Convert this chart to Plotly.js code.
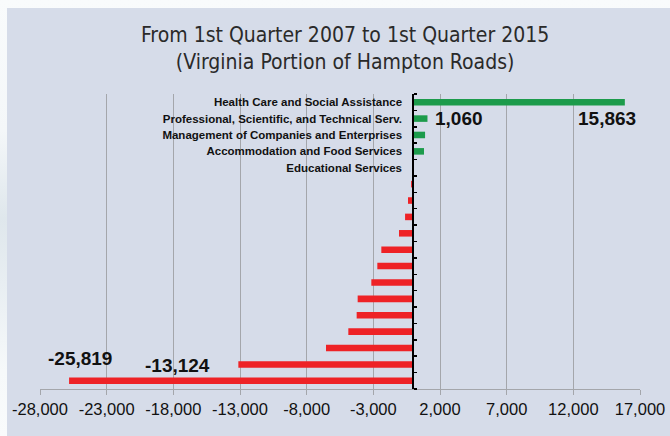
<!DOCTYPE html>
<html>
<head>
<meta charset="utf-8">
<script src="https://cdn.plot.ly/plotly-3.0.1.min.js"></script>
<style>
  html, body { margin: 0; padding: 0; width: 670px; height: 436px; overflow: hidden;
    background: linear-gradient(180deg, #f9fbfc 0%, #f4f7f9 30%, #dfe7ec 50%, #e8eef2 65%, #f6f9fa 85%, #f9fbfc 100%); }
  #chart { position: absolute; left: 7px; top: 8px; width: 663px; height: 428px; }
</style>
</head>
<body>
<div id="chart"></div>
<script>
// Categories (top to bottom); unlabeled bars in the original have no visible name
const categories = [
  "Health Care and Social Assistance",
  "Professional, Scientific, and Technical Serv.",
  "Management of Companies and Enterprises",
  "Accommodation and Food Services",
  "Educational Services",
  "", "", "", "", "", "", "", "", "", "", "", "", ""
];
// Employment change, 1Q2007 to 1Q2015
const changes = [
  15863, 1060, 880, 800, 40,
  -170, -400, -620, -1075, -2400, -2700, -3150, -4175, -4250, -4875, -6550, -13124, -25819
];
const xTickVals = [-28000, -23000, -18000, -13000, -8000, -3000, 2000, 7000, 12000, 17000];
const xTickLabels = ["-28,000", "-23,000", "-18,000", "-13,000", "-8,000", "-3,000", "2,000", "7,000", "12,000", "17,000"];

const GREEN = "#1c9b4b", RED = "#ee2226";
const idx = categories.map((c, i) => i);

const fmt = v => (v < 0 ? "-" : "") + Math.abs(v).toLocaleString("en-US");
const findIdx = v => changes.indexOf(v);

const trace = {
  type: "bar", orientation: "h",
  x: changes, y: idx,
  marker: { color: changes.map(v => v >= 0 ? GREEN : RED) },
  hoverinfo: "x"
};

const valueFont = { family: "Liberation Sans, Arial, sans-serif", size: 19, color: "#111" };
// value labels: placed near their bars (offsets in category units / pixels)
const annotations = [
  { v: 15863, xanchor: "right", xshift: 13, dy: 1 },
  { v: 1060, xanchor: "left", xshift: 6, dy: 0 },
  { v: -25819, xanchor: "left", xshift: -23, dy: -1.34 },
  { v: -13124, xanchor: "right", xshift: -26, dy: 0.09 }
].map(a => ({
  x: a.v, y: findIdx(a.v) + a.dy,
  xref: "x", yref: "y", showarrow: false,
  text: "<b>" + fmt(a.v) + "</b>", xanchor: a.xanchor, yanchor: "middle",
  xshift: a.xshift, font: valueFont
}));

const layout = {
  width: 663, height: 428,
  margin: { l: 33, r: 30, t: 86, b: 47 },
  paper_bgcolor: "#d6dce9", plot_bgcolor: "#d6dce9",
  showlegend: false,
  bargap: 0.6,
  title: {
    text: "From 1st Quarter 2007 to 1st Quarter 2015<br>(Virginia Portion of Hampton Roads)",
    font: { family: "DejaVu Sans Condensed, Liberation Sans Narrow, sans-serif", size: 21, color: "#2a2a2a" },
    xref: "container", x: 0.51, xanchor: "center",
    yref: "container", y: 1 - 34 / 428, yanchor: "top"
  },
  xaxis: {
    range: [-28000, 17000],
    tickvals: xTickVals, ticktext: xTickLabels,
    showgrid: true, gridcolor: "#a4a6ab", gridwidth: 1,
    zeroline: false,
    showline: true, linecolor: "#a4a6ab", linewidth: 1,
    ticks: "outside", ticklen: 5, tickcolor: "#a4a6ab",
    tickfont: { family: "Liberation Sans, Arial, sans-serif", size: 16.5, color: "#111" }
  },
  yaxis: {
    range: [categories.length - 0.5, -0.5],
    anchor: "free", position: 28000 / 45000,
    tickvals: idx, ticktext: categories,
    ticks: "", ticklabelstandoff: 8,
    minor: { tick0: -0.5, dtick: 1, ticks: "inside", ticklen: 3, tickcolor: "#000", tickwidth: 1.5, showgrid: false },
    showgrid: false, zeroline: false,
    showline: true, linecolor: "#000", linewidth: 2,
    tickfont: { family: "Liberation Sans, Arial, sans-serif", size: 11.5, color: "#111", weight: "bold" }
  },
  annotations: annotations
};

Plotly.newPlot("chart", [trace], layout, { displayModeBar: false, staticPlot: true });
</script>
</body>
</html>
